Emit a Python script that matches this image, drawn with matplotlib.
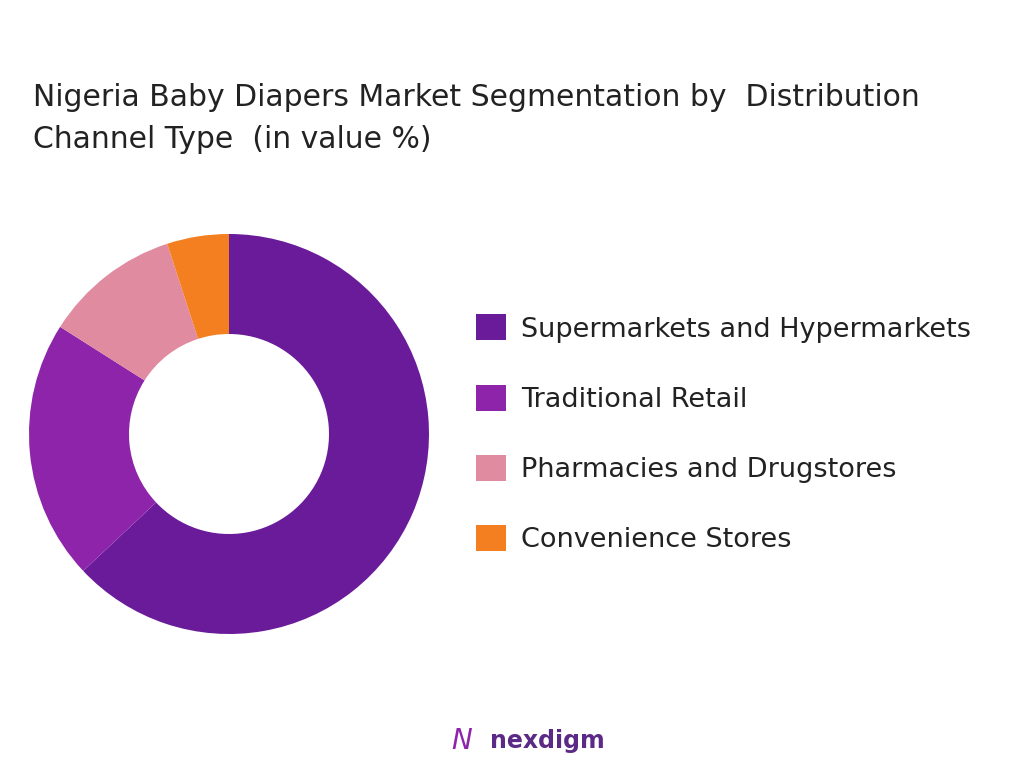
import matplotlib.pyplot as plt
from matplotlib.patches import Patch

channels = ["Supermarkets and Hypermarkets", "Traditional Retail",
            "Pharmacies and Drugstores", "Convenience Stores"]
shares = [63, 21, 11, 5]
colors = ["#6A1B9A", "#8E24AA", "#E08BA0", "#F47F20"]

fig = plt.figure(figsize=(10.24, 7.68), dpi=100)
fig.text(33 / 1024, 1 - 97 / 768, "Nigeria Baby Diapers Market Segmentation by  Distribution",
         fontsize=21.5, va="center", color="#222222")
fig.text(33 / 1024, 1 - 139 / 768, "Channel Type  (in value %)",
         fontsize=21.5, va="center", color="#222222")

# donut: center (229,434), radius 200 px
ax = fig.add_axes([29 / 1024, 1 - 634 / 768, 400 / 1024, 400 / 768])
ax.pie(shares, colors=colors, startangle=90, counterclock=False,
       wedgeprops=dict(width=0.5, edgecolor="none"), radius=1.0)
ax.set_xlim(-1, 1)
ax.set_ylim(-1, 1)
ax.set_aspect("equal")
ax.axis("off")

handles = [Patch(facecolor=c, edgecolor="none") for c in colors]
fig.legend(handles, channels, loc="upper left",
           bbox_to_anchor=(452 / 1024, 1 - 290 / 768), frameon=False,
           fontsize=19.5, handlelength=1.1, handleheight=1.1,
           labelspacing=1.55, handletextpad=0.55, labelcolor="#222222")

fig.text(490 / 1024, 1 - 741 / 768, "nexdigm", fontsize=17, fontweight="bold",
         color="#5B2A86", va="center")
fig.text(462 / 1024, 1 - 741 / 768, "N", fontsize=20, color="#8E24AA",
         va="center", ha="center", style="italic")

fig.savefig("out.png", dpi=100)
